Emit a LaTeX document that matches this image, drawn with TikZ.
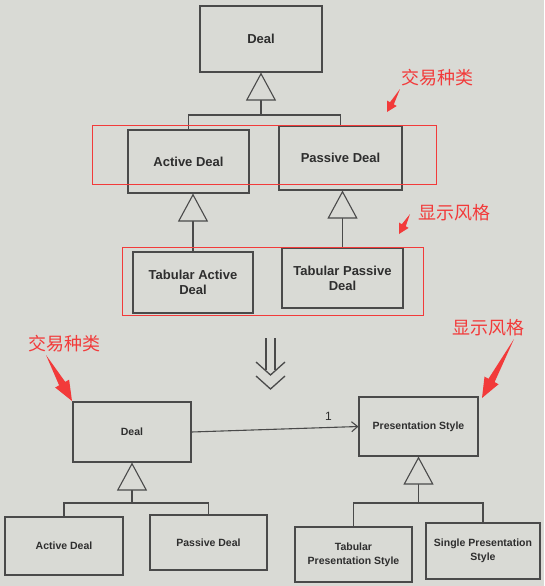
\documentclass[tikz,border=0pt]{standalone}
\usepackage{fontspec}
\setmainfont{Liberation Sans}
\newfontfamily\cjk{Noto Sans CJK SC}
\usetikzlibrary{arrows.meta,calc}
\definecolor{bgcol}{HTML}{D9DAD5}
\definecolor{linecol}{HTML}{4A4A4A}
\definecolor{txtcol}{HTML}{2E2E2E}
\definecolor{annot}{HTML}{F23A3A}
\tikzset{
  classbox/.style={draw=linecol, line width=1.1pt, fill=bgcol, rectangle, inner sep=0pt,
    align=center, text=txtcol, font=\bfseries\fontsize{13}{15}\selectfont},
  classboxthick/.style={classbox, line width=1.8pt},
  smallclass/.style={classbox, font=\bfseries\fontsize{10.5}{14}\selectfont},
  inherit/.style={draw=linecol, line width=1.1pt, -{Triangle[length=28pt,width=30pt,fill=bgcol]}},
  tree/.style={draw=linecol, line width=1.1pt},
  assoc/.style={draw=linecol, line width=1.1pt, -{Straight Barb[length=6pt,width=10pt]}},
  annotrect/.style={draw=annot, line width=0.8pt},
  annotlabel/.style={text=annot, font=\cjk\fontsize{18}{20}\selectfont, inner sep=0pt},
  implies/.style={draw=linecol, line width=1.3pt},
}
% tail, head, head length, head half width, shaft half width
\newcommand\redarr[5]{%
  \path ($(#2)!#3!(#1)$) coordinate (rb);
  \fill[annot] (#1) -- ($(rb)!#5!90:(#1)$) -- ($(rb)!#4!90:(#1)$) -- (#2)
    -- ($(rb)!#4!-90:(#1)$) -- ($(rb)!#5!-90:(#1)$) -- cycle;
}
\begin{document}
\begin{tikzpicture}[x=1pt,y=-1pt]
\useasboundingbox (0,0) rectangle (544,586);
\fill[bgcol] (0,0) rectangle (544,586);

% ---------- top diagram ----------
\node[classbox, minimum width=122pt, minimum height=66pt] (deal1) at (261,39) {Deal};
\node[classbox, minimum width=121pt, minimum height=63pt] (ad1) at (188.5,161.5) {Active Deal};
\node[classbox, minimum width=123pt, minimum height=64pt] (pd1) at (340.5,158) {Passive Deal};
\node[classboxthick, minimum width=120pt, minimum height=61pt] (tad) at (193,282.5) {Tabular Active\\Deal};
\node[classboxthick, minimum width=121pt, minimum height=60pt] (tpd) at (342.5,278) {Tabular Passive\\Deal};

\coordinate (j1) at (261,115);
\draw[tree] (ad1.north) |- (j1) -| (pd1.north);
\draw[inherit] (j1) -- (deal1.south);
\draw[inherit] (tad.north) -- (tad.north |- ad1.south);
\draw[inherit] (tpd.north) -- (tpd.north |- pd1.south);

% red annotations (top)
\draw[annotrect] (92,125) rectangle (436,184);
\draw[annotrect] (122,247) rectangle (423,315);
\node[annotlabel] (lab1) at (437,78) {交易种类};
\node[annotlabel] (lab2) at (454,213) {显示风格};
\coordinate (t1) at (400,89);  \coordinate (h1) at (387,112);
\coordinate (t2) at (410,214); \coordinate (h2) at (399,234);
\redarr{t1}{h1}{10pt}{5.5pt}{2.2pt}
\redarr{t2}{h2}{10pt}{5.5pt}{2.2pt}

% ---------- transition (double arrow) ----------
\coordinate (va1) at (266,338); \coordinate (vb1) at (266,370);
\coordinate (va2) at (275,338); \coordinate (vb2) at (275,370);
\coordinate (c1l) at (256,362); \coordinate (c1m) at (270.5,375); \coordinate (c1r) at (285,362);
\coordinate (c2l) at (256,376); \coordinate (c2m) at (270.5,389); \coordinate (c2r) at (285,376);
\draw[implies] (va1) -- (vb1);
\draw[implies] (va2) -- (vb2);
\draw[implies] (c1l) -- (c1m) -- (c1r);
\draw[implies] (c2l) -- (c2m) -- (c2r);

% ---------- bottom diagram ----------
\node[smallclass, minimum width=118pt, minimum height=60pt] (deal2) at (132,432) {Deal};
\node[smallclass, minimum width=119pt, minimum height=59pt] (ps) at (418.5,426.5) {Presentation Style};
\node[smallclass, minimum width=118pt, minimum height=58pt] (ad2) at (64,546) {Active Deal};
\node[smallclass, minimum width=117pt, minimum height=55pt] (pd2) at (208.5,542.5) {Passive Deal};
\node[smallclass, minimum width=117pt, minimum height=55pt] (tps) at (353.5,554.5) {Tabular\\Presentation Style};
\node[smallclass, minimum width=114pt, minimum height=56pt] (sps) at (483,551) {Single Presentation\\Style};

\draw[assoc] (deal2.east) -- (ps.west) node[pos=0.82, above=3pt, text=txtcol, font=\fontsize{12}{14}\selectfont] (one) {1};

\coordinate (j2) at (132,503);
\draw[tree] (ad2.north) |- (j2) -| (pd2.north);
\draw[inherit] (j2) -- (deal2.south);
\coordinate (j3) at (418.5,503);
\draw[tree] (tps.north) |- (j3) -| (sps.north);
\draw[inherit] (j3) -- (ps.south);

% red annotations (bottom)
\node[annotlabel] (lab3) at (64,344) {交易种类};
\node[annotlabel] (lab4) at (488,328) {显示风格};
\coordinate (t3) at (46,355);  \coordinate (h3) at (72,401);
\coordinate (t4) at (514,339); \coordinate (h4) at (482,398);
\redarr{t3}{h3}{20pt}{8pt}{3.5pt}
\redarr{t4}{h4}{20pt}{8pt}{3.5pt}
\end{tikzpicture}
\end{document}
